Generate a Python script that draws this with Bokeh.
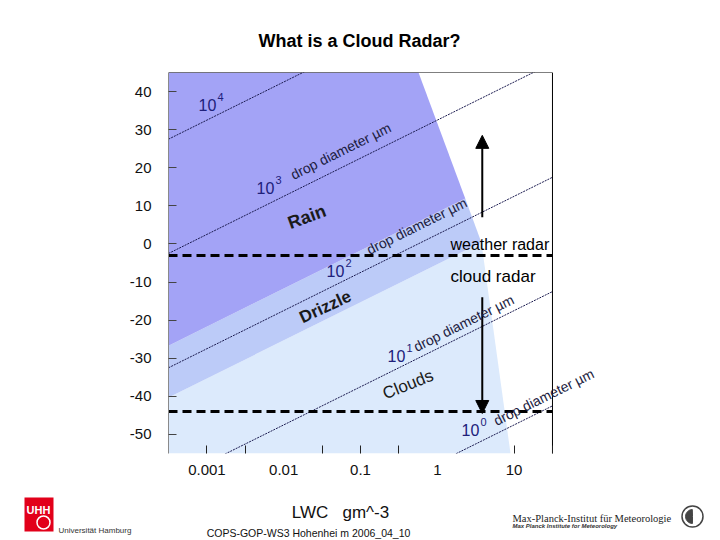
from bokeh.plotting import figure
from bokeh.models import (Label, Arrow, NormalHead, FixedTicker, CustomJSTickFormatter, Range1d)
from bokeh.embed import file_html
from bokeh.resources import INLINE

# ---------------- data (LWC in g m^-3, reflectivity in dBZ) ----------------
rain_lwc = [0.000316, 0.569, 2.31, 0.000316]
rain_dbz = [45, 45, 11.9, -26.7]
drizzle_lwc = [0.000316, 2.31, 3.75, 0.000316]
drizzle_dbz = [-26.7, 11.9, 0.4, -40.3]
cloud_lwc = [0.000316, 3.75, 8.98, 0.000316]
cloud_dbz = [-40.3, 0.4, -55, -55]

# drop-diameter isolines (10^n micrometre), end points at left/right edge of the chart box
iso_exponents = [4, 3, 2, 1, 0]
iso_lwc = [0.000316, 31.6]
iso_left_dbz = [27.5, -2.5, -32.5, -62.5, -92.5]
iso_right_dbz = [77.5, 47.5, 17.5, -12.5, -42.5]

radar_limits_dbz = [-3, -44]          # weather radar / cloud radar sensitivity
arrow_lwc = 3.85
weather_arrow_dbz = [7, 28.5]
cloud_arrow_dbz = [-14, -44.5]

box_lwc = [0.000316, 31.6]            # chart box (LWC)
box_dbz = [-55, 45]                   # chart box (dBZ)

x_tick_values = [0.001, 0.01, 0.1, 1, 10]
x_minor_ticks = [0.001, 0.00316, 0.0316, 0.1, 0.316, 10, 31.6]
y_tick_values = [-50, -40, -30, -20, -10, 0, 10, 20, 30, 40]

FONT = "Liberation Sans"
NB = "\u00a0"
# chart box in page pixels: x 168..552, y 72..453 ; frame is extended to the right edge


def X(px):
    return 10 ** (-3.5 + (px - 168) / 76.8)


def Y(py):
    return 45 - (py - 72) / 3.81


p = figure(width=720, height=495, x_axis_type="log",
           x_range=Range1d(box_lwc[0], 4870), y_range=Range1d(box_dbz[0], box_dbz[1]),
           output_backend="svg", toolbar_location=None,
           min_border_left=168, min_border_right=0,
           min_border_top=72, min_border_bottom=42)
p.grid.visible = False
p.outline_line_color = None
p.background_fill_color = "white"
p.border_fill_color = "white"

p.title.text = "What is a Cloud Radar?"
p.title.text_font = FONT
p.title.text_font_size = "18px"
p.title.text_font_style = "bold"
p.title.text_color = "black"
p.title.align = "left"
p.title.offset = 90
p.title.standoff = 44

p.patch(cloud_lwc, cloud_dbz, fill_color="#dceafc", line_color=None)
p.patch(drizzle_lwc, drizzle_dbz, fill_color="#bccbf8", line_color=None)
p.patch(rain_lwc, rain_dbz, fill_color="#a3a3f6", line_color=None)

p.multi_line(xs=[iso_lwc for _ in iso_exponents],
             ys=[[a, b] for a, b in zip(iso_left_dbz, iso_right_dbz)],
             line_color="#1c1c50", line_width=1, line_dash="2 1")

for v in radar_limits_dbz:
    p.line(box_lwc, [v, v], line_color="black", line_width=3, line_dash="9 5")

# box top and right border
p.line(box_lwc, [box_dbz[1], box_dbz[1]], line_color="black", line_width=1)
p.line([box_lwc[1], box_lwc[1]], box_dbz, line_color="black", line_width=1)

for ys in (weather_arrow_dbz, cloud_arrow_dbz):
    p.add_layout(Arrow(end=NormalHead(size=13, fill_color="black", line_color="black"),
                       x_start=arrow_lwc, y_start=ys[0], x_end=arrow_lwc, y_end=ys[1],
                       line_width=2, line_color="black"))

# axes
xa = p.xaxis[0]
xa.ticker = FixedTicker(ticks=x_tick_values, minor_ticks=x_minor_ticks)
xa.formatter = CustomJSTickFormatter(code="return String(tick);")
xa.major_tick_in = 0
xa.major_tick_out = 0
xa.minor_tick_in = 8
xa.minor_tick_out = 0
xa.minor_tick_line_color = "#222222"
xa.axis_line_color = None
xa.major_label_standoff = 11

ya = p.yaxis[0]
ya.ticker = FixedTicker(ticks=y_tick_values)
ya.formatter = CustomJSTickFormatter(code="return String(tick);")
ya.major_tick_in = 8
ya.major_tick_out = 0
ya.minor_tick_line_color = None
ya.major_tick_line_color = "#444444"
ya.axis_line_color = "#8a8a8a"
ya.major_label_standoff = 17

for ax in (xa, ya):
    ax.major_label_text_font = FONT
    ax.major_label_text_font_size = "15px"
    ax.major_label_text_color = "#111111"


def lab(fig, x, y, text, size, color="black", style="normal", align="left",
        angle=0, font=FONT):
    fig.add_layout(Label(x=x, y=y, text=text, text_font=font,
                         text_font_size=size, text_color=color,
                         text_font_style=style, text_align=align,
                         text_baseline="alphabetic", angle=angle,
                         angle_units="deg"))


def plab(px, py, text, size, color="black", style="normal", align="left", angle=0):
    lab(p, X(px), Y(py), text, size, color, style, align, angle)


NAVY = "#20207a"
iso_base = [(198, 104), (256, 187), (326, 270), (387, 355), (461, 429)]
drop_pos = {3: (291, 175), 2: (367, 250), 1: (414, 347), 0: (494, 421)}
for n, (bx, by) in zip(iso_exponents, iso_base):
    plab(bx, by, "10", "16px", NAVY)
    plab(bx + 19, by - 8, str(n), "11px", NAVY)
    if n in drop_pos:
        dx, dy = drop_pos[n]
        plab(dx, dy, "drop diameter \u00b5m", "14px", "#1c1c40", angle=26.4)

plab(288, 223, "Rain", "18px", "#1a1a1a", "bold", angle=20)
plab(300, 318, "Drizzle", "17px", "#1a1a1a", "bold", angle=25)
plab(383, 394, "Clouds", "17px", "#1a1a1a", angle=22)

plab(450, 244, "weather radar", "16px")
plab(450, 276, "cloud radar", "17px")

# ---------------- bottom strip: axis title, footer and logos ----------------
f = figure(width=720, height=45, x_range=Range1d(0, 720), y_range=Range1d(540, 495),
           output_backend="svg", toolbar_location=None,
           x_axis_location=None, y_axis_location=None,
           min_border_left=0, min_border_right=0, min_border_top=0, min_border_bottom=0)
f.grid.visible = False
f.outline_line_color = None
f.background_fill_color = "white"
f.border_fill_color = "white"

lab(f, 340, 512, "LWC" + NB * 3 + "gm^-3", "17px", "#111111", align="center")
lab(f, 308, 532, "COPS-GOP-WS3 Hohenhei m 2006_04_10", "10.5px", "#111111", align="center")

f.quad(left=[24], right=[53], top=[497], bottom=[531], fill_color="#e2001a", line_color=None)
lab(f, 26, 509, "UHH", "11px", "white", "bold")
f.scatter([43], [522], marker="circle", size=13, fill_color=None, line_color="white", line_width=1.5)
lab(f, 58, 530, "Universit\u00e4t Hamburg", "8px", "#333333")
lab(f, 512, 518, "Max-Planck-Institut f\u00fcr Meteorologie", "10.5px", "#222222",
    font="Liberation Serif")
lab(f, 512, 525, "Max Planck Institute for Meteorology", "6px", "#333333", "bold italic")
f.scatter([692], [516], marker="circle", size=21, fill_color=None, line_color="#444444", line_width=1.5)
f.wedge([692], [516], radius=7, start_angle=1.6, end_angle=4.7, color="#444444")

open("out.html", "w").write(file_html([p, f], INLINE))
